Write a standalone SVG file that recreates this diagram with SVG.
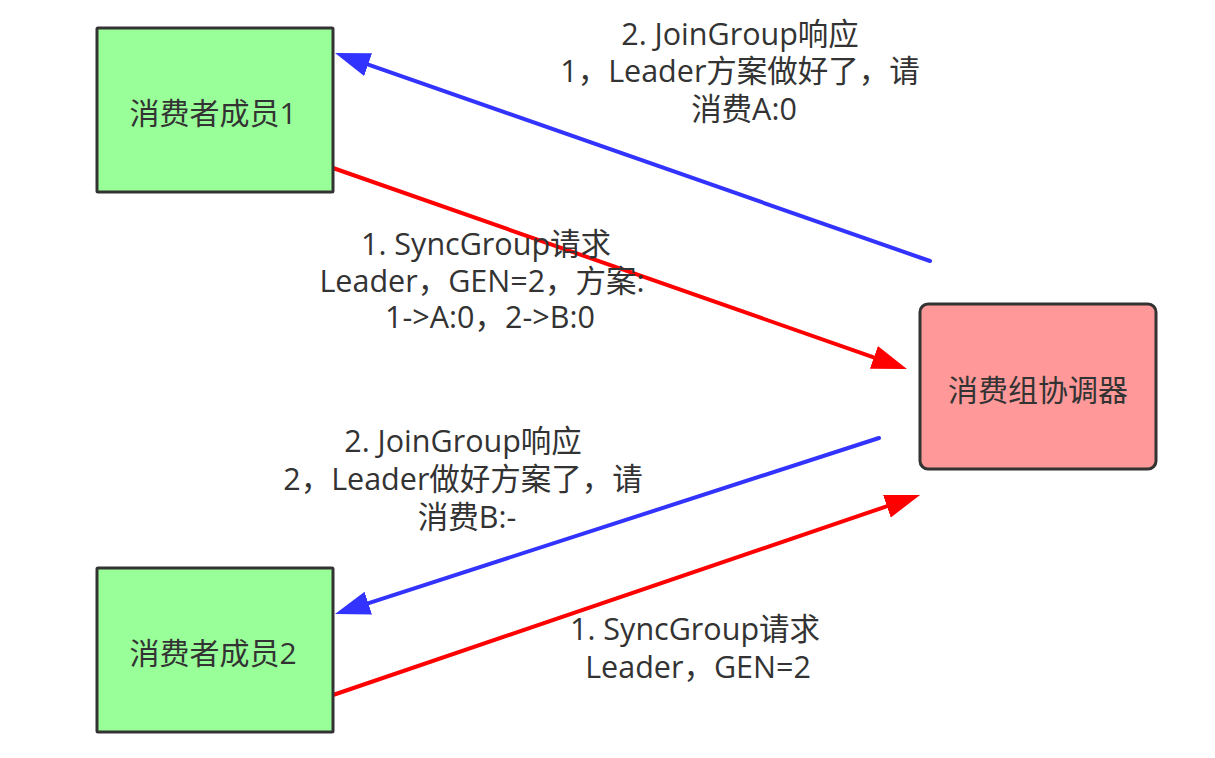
<svg xmlns="http://www.w3.org/2000/svg" width="1215" height="758" viewBox="0 0 1215 758">
  <defs>
    <style>
      .node rect { stroke: #333333; stroke-width: 3; }
      .member rect { fill: #99ff99; }
      .coord rect { fill: #ff9999; }
      .ntext { font-family: 'Open Sans', 'Noto Sans CJK SC', sans-serif; font-size: 30px; fill: #333333; text-anchor: middle; }
      .label { font-family: 'Open Sans', 'Noto Sans CJK SC', sans-serif; font-size: 30.5px; fill: #333333; text-anchor: middle; }
      .blue { stroke: #3333ff; stroke-width: 4; fill: none; stroke-linecap: round; }
      .red { stroke: #ff0000; stroke-width: 4; fill: none; stroke-linecap: round; }
    </style>
    <marker id="headBlue" markerUnits="userSpaceOnUse" markerWidth="36" markerHeight="26" refX="2" refY="12" orient="auto" viewBox="0 0 36 24">
      <path d="M0,0 L35,12 L0,24 Z" fill="#3333ff"/>
    </marker>
    <marker id="headRed" markerUnits="userSpaceOnUse" markerWidth="36" markerHeight="26" refX="2" refY="12" orient="auto" viewBox="0 0 36 24">
      <path d="M0,0 L35,12 L0,24 Z" fill="#ff0000"/>
    </marker>
  </defs>
  <rect width="1215" height="758" fill="#ffffff"/>

  <g id="connectors">
    <line class="blue" x1="930" y1="261" x2="366.2" y2="63.9" marker-end="url(#headBlue)"/>
    <line class="red" x1="333" y1="168" x2="875.8" y2="358.1" marker-end="url(#headRed)"/>
    <line class="blue" x1="879" y1="438" x2="366.4" y2="603.8" marker-end="url(#headBlue)"/>
    <line class="red" x1="333" y1="695" x2="888.8" y2="505.6" marker-end="url(#headRed)"/>
  </g>

  <g id="labels">
    <text class="label">
      <tspan x="744" y="45">2. JoinGroup响应</tspan>
      <tspan x="744" y="82">1，Leader方案做好了，请</tspan>
      <tspan x="744" y="120">消费A:0</tspan>
    </text>
    <text class="label">
      <tspan x="490" y="255">1. SyncGroup请求</tspan>
      <tspan x="486" y="292">Leader，GEN=2，方案:</tspan>
      <tspan x="490" y="328">1-&gt;A:0，2-&gt;B:0</tspan>
    </text>
    <text class="label">
      <tspan x="467" y="452">2. JoinGroup响应</tspan>
      <tspan x="467" y="490">2，Leader做好方案了，请</tspan>
      <tspan x="467" y="528">消费B:-</tspan>
    </text>
    <text class="label">
      <tspan x="699" y="640">1. SyncGroup请求</tspan>
      <tspan x="698" y="678">Leader，GEN=2</tspan>
    </text>
  </g>

  <g id="member1" class="node member">
    <rect x="97" y="28" width="236" height="164" rx="1"/>
    <text class="ntext" x="213" y="124">消费者成员1</text>
  </g>
  <g id="member2" class="node member">
    <rect x="97" y="568" width="236" height="164" rx="1"/>
    <text class="ntext" x="213" y="664">消费者成员2</text>
  </g>
  <g id="coordinator" class="node coord">
    <rect x="920" y="304" width="236" height="165" rx="8"/>
    <text class="ntext" x="1038" y="401">消费组协调器</text>
  </g>
</svg>
